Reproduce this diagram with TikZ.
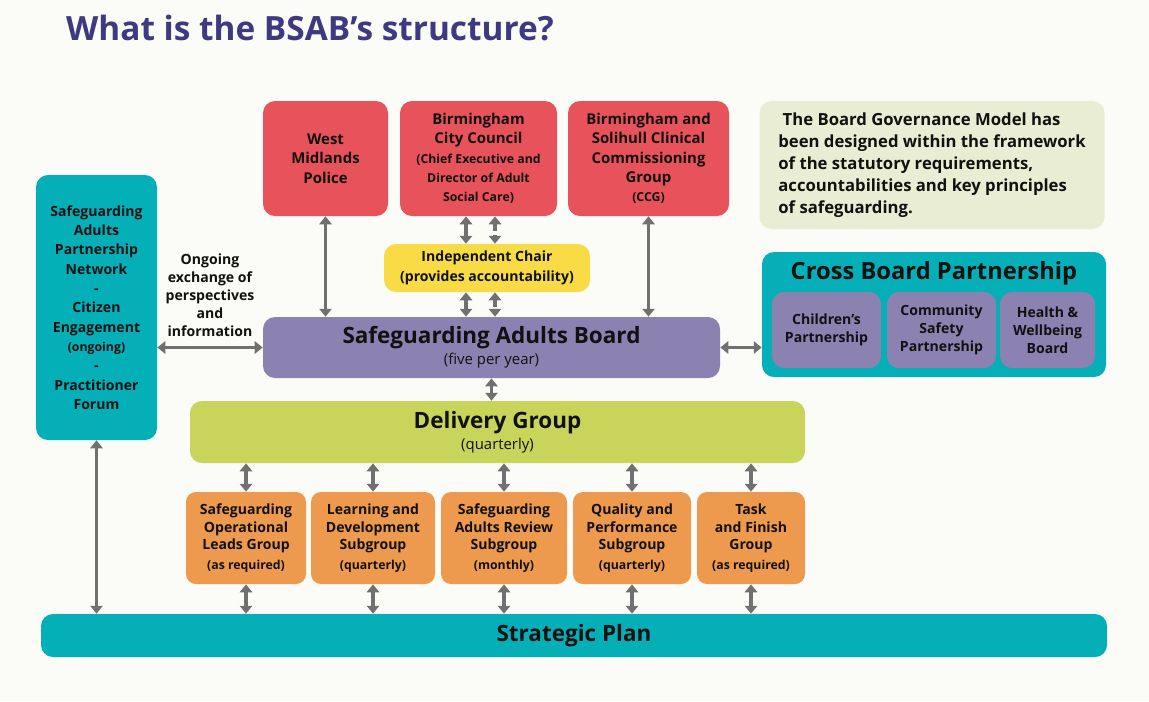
\documentclass[tikz,border=0pt]{standalone}
\usepackage{fontspec}
\setmainfont{Open Sans}
\usetikzlibrary{arrows.meta}
\definecolor{pagebg}{HTML}{FBFBF7}
\definecolor{titleblue}{HTML}{3F3A80}
\definecolor{partnerred}{HTML}{E8525A}
\definecolor{netteal}{HTML}{05AFB8}
\definecolor{boardpurple}{HTML}{8B82B1}
\definecolor{deliverygreen}{HTML}{C9D45A}
\definecolor{subgrouporange}{HTML}{EE9A4E}
\definecolor{chairyellow}{HTML}{F9DC45}
\definecolor{notegreen}{HTML}{E9EDD3}
\definecolor{arrowgray}{HTML}{707070}
\definecolor{textdark}{HTML}{111111}
\newcommand{\smallnote}{\fontsize{7}{11}\selectfont}
\newcommand{\bigline}{\fontsize{12.8}{15}\selectfont}
\begin{document}
\begin{tikzpicture}[x=0.02cm,y=-0.02cm,
  box/.style={rounded corners=0.24cm, inner sep=0pt, align=center, text=textdark,
    font=\fontsize{8.5}{11}\selectfont\bfseries},
  sz/.style 2 args={minimum width=#1*0.02cm, minimum height=#2*0.02cm},
  dbl/.style={draw=arrowgray, line width=2pt,
    {Triangle[length=4.5pt,width=7pt]}-{Triangle[length=4.5pt,width=7pt]}},
  ]
  \fill[pagebg] (0,0) rectangle (1149,701);
  \node[anchor=base west, text=titleblue, font=\fontsize{19}{23}\selectfont\bfseries] (title) at (60,40) {What is the BSAB’s structure?};

  \node[box, fill=partnerred, sz={125}{115}] (wmp) at (325.5,158.5) {West\\Midlands\\Police};
  \node[box, fill=partnerred, sz={157}{115}] (bcc) at (478.5,158.5) {Birmingham\\City Council\\\smallnote(Chief Executive and\\\smallnote Director of Adult\\\smallnote Social Care)};
  \node[box, fill=partnerred, sz={161}{115}] (ccg) at (648.5,158.5) {Birmingham and\\Solihull Clinical\\Commissioning\\Group\\\smallnote(CCG)};
  \node[box, fill=notegreen, sz={345}{128}, align=left, font=\fontsize{9.5}{12.5}\selectfont\bfseries] (note) at (932,165)
    {\ The Board Governance Model has\\been designed within the framework\\of the statutory requirements,\\accountabilities and key principles\\of safeguarding.};

  \node[box, fill=netteal, sz={121}{265}, font=\fontsize{8}{11}\selectfont\bfseries] (net) at (96.5,307.5)
    {Safeguarding\\Adults\\Partnership\\Network\\-\\Citizen\\Engagement\\\smallnote(ongoing)\\-\\Practitioner\\Forum};
  \node[align=center, text=textdark, font=\fontsize{8}{10.2}\selectfont\bfseries] (exchange) at (210,295)
    {Ongoing\\exchange of\\perspectives\\and\\information};

  \node[box, fill=chairyellow, sz={206}{48}, font=\fontsize{8}{11}\selectfont\bfseries] (chair) at (487,268) {Independent Chair\\(provides accountability)};
  \node[box, fill=boardpurple, sz={457}{61}] (sab) at (491.5,347.5) {\bigline Safeguarding Adults Board\\[1pt]\fontsize{8.5}{11}\selectfont\mdseries(five per year)};

  \node[box, fill=netteal, sz={344}{125}] (cbp) at (934,314.5) {};
  \node[text=textdark, font=\fontsize{13.5}{16}\selectfont\bfseries] (cbptitle) at (934,273) {Cross Board Partnership};
  \node[box, fill=boardpurple, sz={109}{76}, font=\fontsize{8}{10.2}\selectfont\bfseries] (children) at (826.5,330) {Children’s\\Partnership};
  \node[box, fill=boardpurple, sz={109}{76}, font=\fontsize{8}{10.2}\selectfont\bfseries] (safety) at (941.5,330) {Community\\Safety\\Partnership};
  \node[box, fill=boardpurple, sz={95}{76}, font=\fontsize{8}{10.2}\selectfont\bfseries] (health) at (1047.5,330) {Health \&\\Wellbeing\\Board};

  \node[box, fill=deliverygreen, sz={615}{62}] (dg) at (497.5,432) {\bigline Delivery Group\\[1pt]\fontsize{8.5}{11}\selectfont\mdseries(quarterly)};

  \node[box, fill=netteal, sz={1066}{43}, font=\bigline\bfseries] (sp) at (574,635.5) {Strategic Plan};

  \foreach \cx/\w/\t [count=\i] in {246/120/{Safeguarding\\Operational\\Leads Group\\[1pt]\smallnote(as required)},
      373/124/{Learning and\\Development\\Subgroup\\[1pt]\smallnote(quarterly)},
      504/126/{Safeguarding\\Adults Review\\Subgroup\\[1pt]\smallnote(monthly)},
      632/118/{Quality and\\Performance\\Subgroup\\[1pt]\smallnote(quarterly)},
      751/108/{Task\\and Finish\\Group\\[1pt]\smallnote(as required)}}{%
    \node[box, fill=subgrouporange, rounded corners=0.2cm, sz={\w}{92}, font=\fontsize{8}{10.2}\selectfont\bfseries] (sub\i) at (\cx,538) {\t};
    \draw[dbl] (sub\i.north |- dg.south) -- (sub\i.north);
    \draw[dbl] (sub\i.south) -- (sub\i.south |- sp.north);
  }

  \coordinate (solidx) at (466,0);
  \coordinate (dashx) at (495,0);
  \draw[dbl] (wmp.south) -- (wmp.south |- sab.north);
  \draw[dbl] (bcc.south -| solidx) -- (chair.north -| solidx);
  \draw[dbl] (chair.south -| solidx) -- (sab.north -| solidx);
  \draw[dbl, dash pattern=on 4pt off 2.5pt] (bcc.south -| dashx) -- (chair.north -| dashx);
  \draw[dbl, dash pattern=on 4pt off 2.5pt] (chair.south -| dashx) -- (sab.north -| dashx);
  \draw[dbl] (ccg.south) -- (ccg.south |- sab.north);
  \draw[dbl] (sab.west -| net.east) -- (sab.west);
  \draw[dbl] (sab.east) -- (sab.east -| cbp.west);
  \draw[dbl] (sab.south) -- (sab.south |- dg.north);
  \draw[dbl] (net.south) -- (net.south |- sp.north);
\end{tikzpicture}
\end{document}
